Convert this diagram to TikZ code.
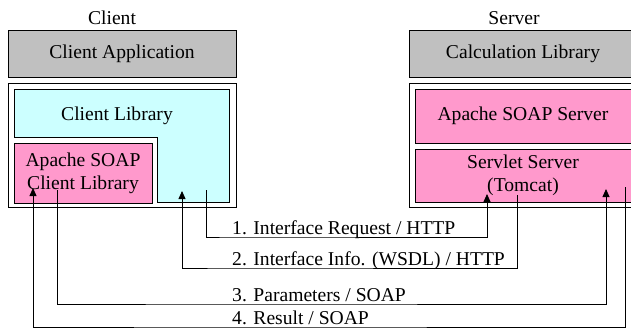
\documentclass[tikz,border=0pt]{standalone}
\usepackage{fontspec}
\setmainfont{Liberation Serif}
\usetikzlibrary{arrows.meta}
\definecolor{boxgray}{RGB}{192,192,192}
\definecolor{libcyan}{RGB}{204,255,255}
\definecolor{soappink}{RGB}{255,153,204}
\begin{document}
\begin{tikzpicture}[x=1pt,y=-1pt,
  every node/.style={font=\fontsize{19.6}{23}\selectfont},
  box/.style={draw,line width=1pt,inner sep=0pt,align=center},
  conn/.style={line width=0.8pt,-{Triangle[width=7pt,length=8pt]}},
  msg/.style={anchor=south west,inner xsep=0pt,inner ysep=2.5pt,text depth=0pt}]
\useasboundingbox (0,0) rectangle (631,333);
% client side
\node (client) at (112,18) {Client};
\node[box,fill=boxgray,minimum width=228,minimum height=47] (capp) at (122,53.5) {Client Application};
\node[box,fill=white,minimum width=228,minimum height=124] (cside) at (122,145) {};
\draw[line width=1pt,fill=libcyan] (14,89) -- (229,89) -- (229,202) -- (157,202) -- (157,137) -- (14,137) -- cycle;
\node (clib) at (117,116) {Client Library};
\node[box,fill=soappink,minimum width=138,minimum height=60] (csoap) at (83,173) {Apache SOAP\\Client Library};
% server side
\node (server) at (514,18) {Server};
\node[box,fill=boxgray,minimum width=228,minimum height=47] (calc) at (523,53.5) {Calculation Library};
\node[box,fill=white,minimum width=228,minimum height=124] (sside) at (523,145) {};
\node[box,fill=soappink,minimum width=216,minimum height=54] (ssoap) at (523,116) {Apache SOAP Server};
\node[box,fill=soappink,minimum width=216,minimum height=53] (tomcat) at (523,175.5) {Servlet Server\\(Tomcat)};
% ends of the connectors
\coordinate (reqout) at (206,190);
\coordinate (reqin) at (487,194);
\coordinate (infoout) at (517,195);
\coordinate (infoin) at (182,191);
\coordinate (parout) at (57,190);
\coordinate (parin) at (606,189);
\coordinate (resout) at (625,187);
\coordinate (resin) at (33,188);
% messages
\node[msg] (req) at (232,237) {1. Interface Request / HTTP};
\node[msg] (info) at (232,268) {2. Interface Info. (WSDL) / HTTP};
\node[msg] (par) at (232,304) {3. Parameters / SOAP};
\node[msg] (res) at (232,327) {4. Result / SOAP};
\draw[conn] (reqout) |- (req.south west) -| (reqin);
\draw[conn] (infoout) |- (info.south west) -| (infoin);
\draw[conn] (parout) |- (par.south west) -| (parin);
\draw[conn] (resout) |- (res.south west) -| (resin);
\end{tikzpicture}
\end{document}
